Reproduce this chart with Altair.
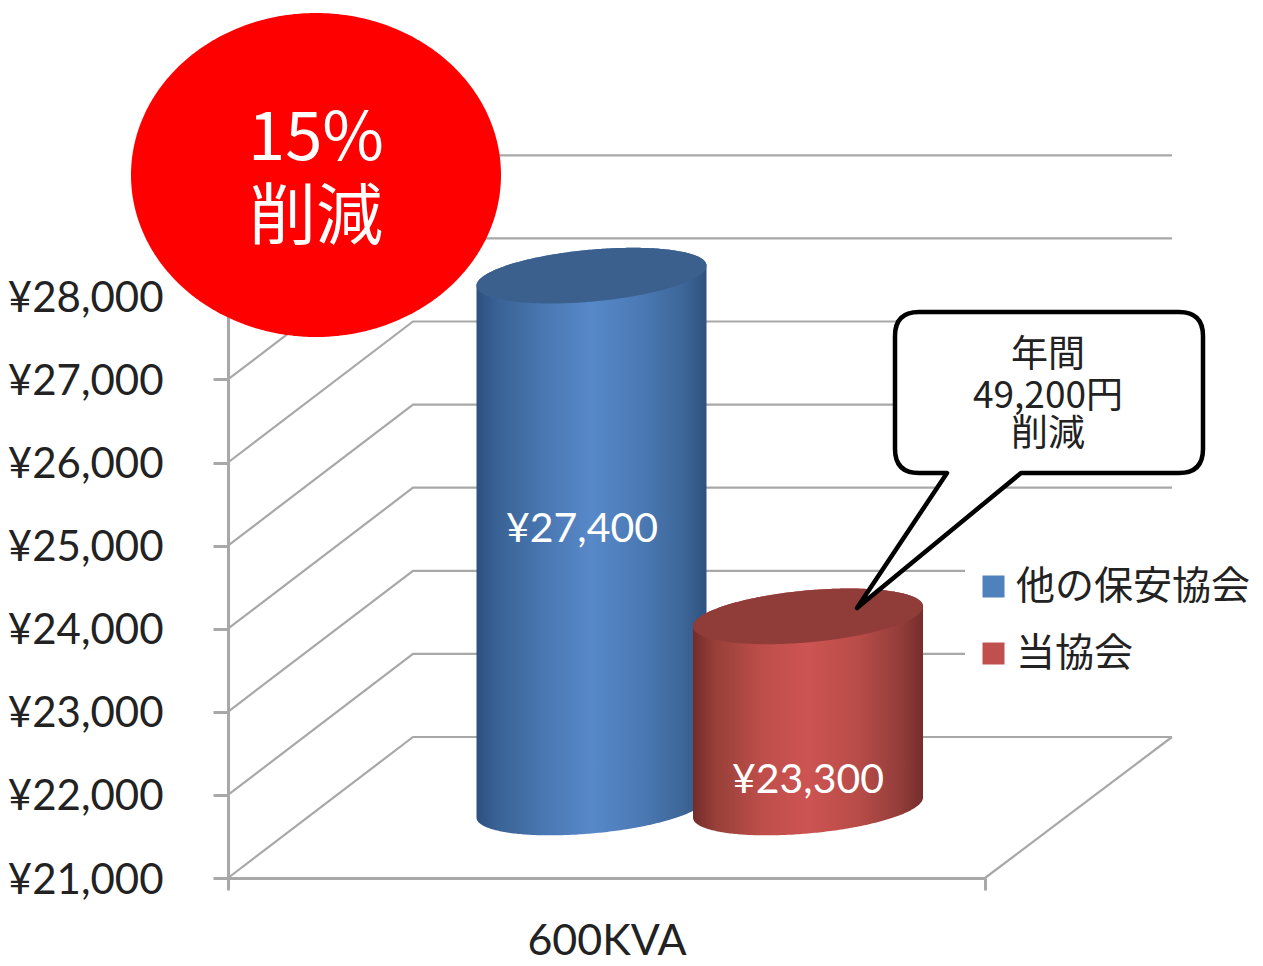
import altair as alt
import numpy as np
import pandas as pd

# ---- values
series_names = ["他の保安協会", "当協会"]
series_values = [27400, 23300]
series_colors = ["#4F81BD", "#C0504D"]
tick_values = [21000, 22000, 23000, 24000, 25000, 26000, 27000, 28000]
category_label = "600KVA"
callout_lines = ["年間", "49,200円", "削減"]
badge_lines = ["15%", "削減"]

# ---- drawing constants (3-D projection of the chart frame)
AX_LEFT, AX_BOTTOM = 228, 878          # picture pixel of x=0, y=21000
PLOT_W, PLOT_H = 757, 723
PX_PER_YEN = 0.0831
DEPTH_X = 185 / PLOT_W                 # floor depth, in x units
DEPTH_Y = 141 / PX_PER_YEN             # floor depth, in yen
Y_MIN = tick_values[0]
Y_MAX = Y_MIN + PLOT_H / PX_PER_YEN
BAR_CENTERS = [0.358, 0.644]
BAR_RX = 115 / PLOT_W
CAP_RY = 26 / PX_PER_YEN
CAP_TILT = 10 / PX_PER_YEN

def X(px):
    return (px - AX_LEFT) / PLOT_W

def Y(py):
    return Y_MIN + (AX_BOTTOM - py) / PX_PER_YEN

FONT_LATIN = "Lato"
FONT_CJK = "Noto Sans CJK JP"
GRID = "#a8a8a8"

x_scale = alt.Scale(domain=[0, 1], nice=False, zero=False)
y_scale = alt.Scale(domain=[Y_MIN, Y_MAX], nice=False, zero=False)

x_axis = alt.Axis(
    values=[0, 1], labels=False, grid=False, domainColor=GRID, domainWidth=3,
    tickColor=GRID, tickWidth=3, tickSize=12,
    titleFont=FONT_LATIN, titleFontSize=43, titleFontWeight="normal",
    titleColor="#222222", titlePadding=29,
)
y_axis = alt.Axis(
    values=tick_values, grid=False, domainColor=GRID, domainWidth=3,
    tickColor=GRID, tickWidth=3, tickSize=15,
    labelFont=FONT_LATIN, labelFontSize=42, labelColor="#222222", labelPadding=50,
    labelOffset=2,
    labelExpr="'¥' + format(datum.value, ',')", labelLimit=300,
)

def xq(field):
    return alt.X(field, type="quantitative", scale=x_scale, axis=x_axis, title=category_label)

def yq(field):
    return alt.Y(field, type="quantitative", scale=y_scale, axis=y_axis, title=None)

# ---- frame lines
rows = []
for i, v in enumerate(tick_values):
    rows += [
        {"line": i, "seq": 0, "x": 0, "y": v},
        {"line": i, "seq": 1, "x": DEPTH_X, "y": v + DEPTH_Y},
        {"line": i, "seq": 2, "x": X(1172), "y": v + DEPTH_Y},
    ]
rows += [
    {"line": 99, "seq": 0, "x": X(1172), "y": Y_MIN + DEPTH_Y},
    {"line": 99, "seq": 1, "x": 1, "y": Y_MIN},
]
frame = alt.Chart(pd.DataFrame(rows)).mark_line(color=GRID, strokeWidth=2.2).encode(
    x=xq("x"), y=yq("y"), detail="line:N", order="seq:Q",
)

# ---- cylinders
def cylinder_frames(name, value, center):
    u = np.sin(np.linspace(-np.pi / 2, np.pi / 2, 161))
    arc = np.sqrt(np.clip(1 - u ** 2, 0, 1)) * CAP_RY
    tilt = u * CAP_TILT
    base = Y_MIN + DEPTH_Y / 2 + tilt
    top = value + DEPTH_Y / 2 + tilt
    return pd.DataFrame({
        "series": name,
        "x": center + DEPTH_X / 2 + u * BAR_RX,
        "body_top": top + arc,
        "body_bottom": base - arc,
        "cap_top": top + arc,
        "cap_bottom": top - arc,
    })

body_stops = [
    [(0, "#2d5080"), (0.1, "#3a6497"), (0.3, "#4a78b3"), (0.5, "#5788c8"),
     (0.72, "#4a79b4"), (0.9, "#3d6698"), (1, "#2f5280")],
    [(0, "#732c2a"), (0.1, "#984039"), (0.3, "#be4e4a"), (0.5, "#cd5452"),
     (0.72, "#b84c48"), (0.9, "#933d3a"), (1, "#752e2c")],
]

def gradient(stops):
    return alt.LinearGradient(
        gradient="linear", x1=0, y1=0, x2=1, y2=0,
        stops=[alt.GradientStop(offset=o, color=c) for o, c in stops],
    )

cyl_layers = []
for i, (name, value, center) in enumerate(zip(series_names, series_values, BAR_CENTERS)):
    df = cylinder_frames(name, value, center)
    body = alt.Chart(df).mark_area(color=gradient(body_stops[i]), clip=False).encode(
        x=xq("x"), y=yq("body_top"), y2="body_bottom"
    )
    cap = alt.Chart(df).mark_area(clip=False).encode(
        x=xq("x"), y=yq("cap_top"), y2="cap_bottom",
        color=alt.Color(
            "series:N",
            scale=alt.Scale(domain=series_names, range=series_colors),
            legend=alt.Legend(
                title=None, orient="none", legendX=737, legendY=403,
                symbolType="square", symbolSize=484, symbolOpacity=1, symbolStrokeWidth=0,
                labelFont=FONT_CJK, labelFontSize=39, labelColor="#222222", labelLimit=400,
                labelOffset=3, rowPadding=27, padding=9, fillColor="white",
            ),
        ),
    )
    shade = alt.Chart(df).mark_area(color="black", opacity=0.25, clip=False).encode(
        x=xq("x"), y=yq("cap_top"), y2="cap_bottom"
    )
    cyl_layers += [body, cap, shade]

# ---- value labels
value_labels = alt.Chart(pd.DataFrame({
    "label": [f"¥{v:,}" for v in series_values],
    "x": [X(582), X(808)],
    "y": [Y(530), Y(781)],
})).mark_text(font=FONT_LATIN, fontSize=41, color="white", align="center", baseline="middle").encode(
    x=xq("x"), y=yq("y"), text="label:N"
)

# ---- red badge
t = np.sin(np.linspace(-np.pi / 2, np.pi / 2, 241))
badge = alt.Chart(pd.DataFrame({
    "x": X(316) + t * 185 / PLOT_W,
    "y": Y(175) + np.sqrt(np.clip(1 - t ** 2, 0, 1)) * 162 / PX_PER_YEN,
    "y2": Y(175) - np.sqrt(np.clip(1 - t ** 2, 0, 1)) * 162 / PX_PER_YEN,
})).mark_area(color="#ff0000", clip=False).encode(x=xq("x"), y=yq("y"), y2="y2")

badge_text = alt.Chart(pd.DataFrame({
    "label": badge_lines, "x": [X(316), X(316)], "y": [Y(140), Y(219)],
})).mark_text(font=FONT_CJK, fontSize=67, color="white", align="center", baseline="middle").encode(
    x=xq("x"), y=yq("y"), text="label:N"
)

# ---- speech bubble
x0, x1, y0, y1, r = -105, 203, -88, 73, 24
bubble_path = (
    f"M{x0+r},{y0} L{x1-r},{y0} Q{x1},{y0} {x1},{y0+r} L{x1},{y1-r} Q{x1},{y1} {x1-r},{y1} "
    f"L21,{y1} L-143,208 L-53,{y1} L{x0+r},{y1} Q{x0},{y1} {x0},{y1-r} L{x0},{y0+r} Q{x0},{y0} {x0+r},{y0} Z"
)
bubble = alt.Chart(pd.DataFrame({"x": [X(1000)], "y": [Y(400)]})).mark_point(
    shape=bubble_path, size=4, filled=True, fill="white", stroke="black",
    strokeWidth=4.5, opacity=1, strokeJoin="round", clip=False,
).encode(x=xq("x"), y=yq("y"))

bubble_text = alt.Chart(pd.DataFrame({
    "label": callout_lines, "x": [X(1048)] * 3, "y": [Y(356), Y(397), Y(435)],
})).mark_text(font=FONT_CJK, fontSize=37, color="#222222", align="center", baseline="middle").encode(
    x=xq("x"), y=yq("y"), text="label:N"
)

chart = alt.layer(
    frame, *cyl_layers, value_labels, badge, badge_text, bubble, bubble_text
).resolve_scale(color="shared").properties(
    width=PLOT_W, height=PLOT_H,
    padding={"left": 220, "top": 147, "right": 270, "bottom": 88},
    autosize=alt.AutoSizeParams(type="none"),
    background="white",
).configure_view(strokeWidth=0)

chart.save("out.html", embed_options={"renderer": "svg", "actions": False})
